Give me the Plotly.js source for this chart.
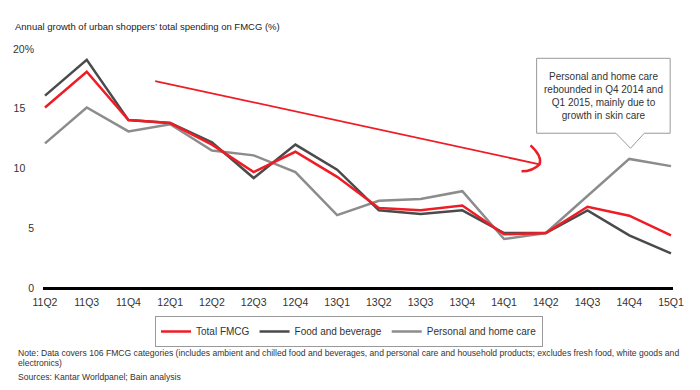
<!DOCTYPE html>
<html>
<head>
<meta charset="utf-8">
<script src="https://cdn.plot.ly/plotly-3.0.1.min.js"></script>
<style>html,body{margin:0;padding:0;background:#fff;}#chart{width:700px;height:390px;}</style>
</head>
<body>
<div id="chart"></div>
<script>
const quarters = ["11Q2","11Q3","11Q4","12Q1","12Q2","12Q3","12Q4","13Q1","13Q2","13Q3","13Q4","14Q1","14Q2","14Q3","14Q4","15Q1"];
const totalFMCG = [15.1,18.1,14.05,13.8,12.0,9.7,11.4,9.3,6.7,6.5,6.9,4.5,4.6,6.8,6.05,4.4];
const foodBeverage = [16.1,19.1,14.05,13.8,12.2,9.2,12.0,9.9,6.5,6.2,6.5,4.6,4.6,6.5,4.4,2.9];
const personalHome = [12.1,15.1,13.1,13.7,11.5,11.1,9.7,6.1,7.3,7.45,8.1,4.1,4.6,7.7,10.8,10.2];
const yTickVals = [0,5,10,15,20];
const yTickText = ["0","5","10\u00A0\u00A0\u00A0","15\u00A0\u00A0\u00A0","20%"];

const FONT = "Liberation Sans, Arial, sans-serif";
const idx = quarters.map((q,i)=>i);

// plot area: x 43..673, y 43..294 (pixels)
const px = p => (p - 43) / 630;
const py = q => (294 - q) / 251;

const traces = [
  {x: idx, y: personalHome, name: "Personal and home care", type: "scatter", mode: "lines",
   line: {color: "#8c8c8c", width: 2.5}, legendrank: 3},
  {x: idx, y: foodBeverage, name: "Food and beverage", type: "scatter", mode: "lines",
   line: {color: "#4a4a4a", width: 2.5}, legendrank: 2},
  {x: idx, y: totalFMCG, name: "Total FMCG", type: "scatter", mode: "lines",
   line: {color: "#ee1c25", width: 2.5}, legendrank: 1}
];

const noteFont = {family: FONT, size: 8.6, color: "#333"};

const layout = {
  width: 700, height: 390,
  margin: {l: 43, r: 27, t: 43, b: 96},
  paper_bgcolor: "#fff", plot_bgcolor: "#fff",
  font: {family: FONT, size: 10, color: "#333"},
  showlegend: true,
  title: {text: "Annual growth of urban shoppers\u2019 total spending on FMCG (%)",
          xref: "container", yref: "container", x: 15/700, xanchor: "left",
          y: 1 - 27/390, yanchor: "middle", font: {family: FONT, size: 9.5, color: "#222"}},
  xaxis: {range: [-0.048, 15.048], tickvals: idx, ticktext: quarters, showgrid: false,
          zeroline: false, showline: false, ticks: "", tickfont: {size: 10.5, color: "#333"}, fixedrange: true},
  yaxis: {range: [-0.5, 20.5], tickvals: yTickVals, ticktext: yTickText, showgrid: false,
          zeroline: true, zerolinecolor: "#000", zerolinewidth: 3, showline: false, ticks: "",
          tickfont: {size: 10.5, color: "#333"}, ticklabelstandoff: 8, fixedrange: true},
  legend: {orientation: "h", xref: "container", yref: "container", x: 349/700, xanchor: "center",
           y: 1 - 316/390, yanchor: "top", bordercolor: "#999", borderwidth: 1,
           font: {size: 10, color: "#333"}, traceorder: "normal", itemwidth: 30},
  shapes: [
    {type: "line", xref: "x", yref: "y", x0: 2.64, y0: 17.32, x1: 11.85, y1: 10.35,
     line: {color: "#ee1c25", width: 1.8}},
    {type: "path", xref: "x", yref: "y", xsizemode: "pixel", ysizemode: "pixel",
     xanchor: 11.85, yanchor: 10.35,
     path: "M -9,19 Q 3,8 0,0 Q -7,-7 -18,-7", line: {color: "#ee1c25", width: 2.5}},
    {type: "path", xref: "x", yref: "y",
     path: "M 11.78,19.22 L 14.98,19.22 L 14.98,12.95 L 14.36,12.95 L 14.03,11.69 L 13.68,12.95 L 11.78,12.95 Z",
     line: {color: "#999", width: 1}, fillcolor: "#fff"}
  ],
  annotations: [
    {xref: "x", yref: "y", x: 13.38, y: 16.05, showarrow: false, align: "center",
     text: "Personal and home care<br>rebounded in Q4 2014 and<br>Q1 2015, mainly due to<br>growth in skin care",
     font: {size: 10, color: "#333"}},
    {xref: "paper", yref: "paper", x: px(16), y: py(352.7), xanchor: "left", yanchor: "middle",
     showarrow: false, align: "left", font: noteFont,
     text: "Note: Data covers 106 FMCG categories (includes ambient and chilled food and beverages, and personal care and household products; excludes fresh food, white goods and"},
    {xref: "paper", yref: "paper", x: px(16), y: py(362.7), xanchor: "left", yanchor: "middle",
     showarrow: false, align: "left", font: noteFont, text: "electronics)"},
    {xref: "paper", yref: "paper", x: px(16), y: py(376.7), xanchor: "left", yanchor: "middle",
     showarrow: false, align: "left", font: noteFont, text: "Sources: Kantar Worldpanel; Bain analysis"}
  ]
};

Plotly.newPlot("chart", traces, layout, {displayModeBar: false, staticPlot: true});
</script>
</body>
</html>
